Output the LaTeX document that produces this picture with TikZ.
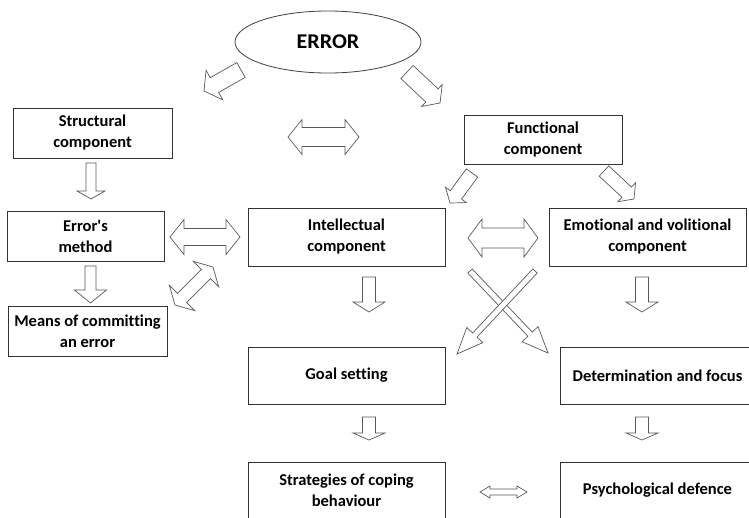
\documentclass[tikz,border=0pt]{standalone}
\usepackage{fontspec}
\setmainfont{Carlito}[Ligatures={TeXOff,CommonOff}]
\newfontfamily\errfont{Carlito}[FakeStretch=1.05]
\usetikzlibrary{calc,shapes.geometric}

\tikzset{
  box/.style={draw=black!80, line width=0.8pt, fill=white, inner sep=0pt, align=center,
    font=\bfseries\fontsize{16.5}{21}\selectfont},
  blockarr/.style={draw=black!65, line width=0.7pt, fill=white, line join=miter}
}

% hollow block arrow: from, to, shaft half width, head half width, head length
\newcommand{\singlearr}[5]{%
  \path ($(#2)!#5!(#1)$) coordinate (hb);
  \draw[blockarr] ($(#1)!#3!90:(#2)$) -- ($(hb)!#3!90:(#2)$) -- ($(hb)!#4!90:(#2)$) -- (#2)
    -- ($(hb)!#4!-90:(#2)$) -- ($(hb)!#3!-90:(#2)$) -- ($(#1)!#3!-90:(#2)$) -- cycle;}
% hollow block arrow with two heads
\newcommand{\doublearr}[5]{%
  \path ($(#1)!#5!(#2)$) coordinate (ha) ($(#2)!#5!(#1)$) coordinate (hb);
  \draw[blockarr] (#1) -- ($(ha)!#4!90:(#2)$) -- ($(ha)!#3!90:(#2)$) -- ($(hb)!#3!90:(#2)$)
    -- ($(hb)!#4!90:(#2)$) -- (#2) -- ($(hb)!#4!-90:(#2)$) -- ($(hb)!#3!-90:(#2)$)
    -- ($(ha)!#3!-90:(#2)$) -- ($(ha)!#4!-90:(#2)$) -- cycle;}

\begin{document}
\begin{tikzpicture}[x=1pt,y=-1pt]
	\clip (0,0) rectangle (749,517);
	\fill[white] (0,0) rectangle (749,517);
	% top
	\node[draw=black!75, line width=0.8pt, ellipse, minimum width=186pt, minimum height=62pt,
	  inner sep=0pt, font=\errfont\bfseries\fontsize{21}{24}\selectfont] (err) at (328,42) {ERROR};
	\node[box, minimum width=159pt, minimum height=50pt] (struct) at (92.5,133) {Structural\\component};
	\node[box, minimum width=158pt, minimum height=49pt] (func) at (543,139.5) {Functional\\component};
	% left column
	\node[box, minimum width=157pt, minimum height=50pt] (method) at (85.5,236) {Error's\\method};
	\node[box, minimum width=159pt, minimum height=50pt] (means) at (87.5,331) {Means of committing\\an error};
	% middle and right
	\node[box, minimum width=197pt, minimum height=58pt] (intel) at (346.5,237) {Intellectual\\component};
	\node[box, minimum width=197pt, minimum height=58pt] (emot) at (647.5,237) {Emotional and volitional\\component};
	\node[box, minimum width=197pt, minimum height=57pt] (goal) at (346.5,375.5) {Goal setting};
	\node[box, minimum width=195pt, minimum height=57pt] (determ) at (657.5,375.5) {Determination and focus};
	\node[box, minimum width=197pt, minimum height=57pt] (strat) at (346.5,490.5) {Strategies of coping\\behaviour};
	\node[box, minimum width=195pt, minimum height=57pt] (psych) at (657.5,490.5) {Psychological defence};

	% arrow ends
	\coordinate (errL1) at (241,70);   \coordinate (errL2) at (204,91);
	\coordinate (errR1) at (407,72);   \coordinate (errR2) at (440,103);
	\coordinate (funcL1) at (472,173); \coordinate (funcL2) at (450,203);
	\coordinate (funcR1) at (604,171); \coordinate (funcR2) at (634,199);
	\coordinate (top1) at (288,137);   \coordinate (top2) at (359,137);
	\coordinate (mid1) at (170,237);   \coordinate (mid2) at (240,237);
	\coordinate (mid3) at (468,238);   \coordinate (mid4) at (538,238);
	\coordinate (bot1) at (480,492);   \coordinate (bot2) at (527,492);
	\coordinate (dg1) at (175,305);    \coordinate (dg2) at (213,267);
	\coordinate (xa1) at (470,271);    \coordinate (xa2) at (548,353);
	\coordinate (xb1) at (535,271);    \coordinate (xb2) at (457,354);
	\coordinate (v1a) at (91,163);     \coordinate (v1b) at (91,199);
	\coordinate (v2a) at (90.5,266);   \coordinate (v2b) at (90.5,303);
	\coordinate (v3a) at (369,277);    \coordinate (v3b) at (369,312);
	\coordinate (v4a) at (642,277);    \coordinate (v4b) at (642,312);
	\coordinate (v5a) at (369,417);    \coordinate (v5b) at (369,440);
	\coordinate (v6a) at (642,417);    \coordinate (v6b) at (642,440);

	% single block arrows
	\singlearr{errL1}{errL2}{8.5pt}{17pt}{12pt}
	\singlearr{errR1}{errR2}{9pt}{15pt}{11pt}
	\singlearr{funcL1}{funcL2}{7pt}{13pt}{10pt}
	\singlearr{funcR1}{funcR2}{7pt}{13pt}{10pt}
	\singlearr{v1a}{v1b}{5pt}{14pt}{8pt}
	\singlearr{v2a}{v2b}{5.5pt}{16pt}{13pt}
	\singlearr{v3a}{v3b}{6.5pt}{16pt}{10pt}
	\singlearr{v4a}{v4b}{6.5pt}{16pt}{10pt}
	\singlearr{v5a}{v5b}{6.5pt}{16pt}{7pt}
	\singlearr{v6a}{v6b}{6.5pt}{16pt}{7pt}
	% crossing arrows
	\singlearr{xa1}{xa2}{3pt}{11pt}{26pt}
	\singlearr{xb1}{xb2}{3pt}{11pt}{26pt}
	% double block arrows
	\doublearr{top1}{top2}{9.5pt}{17.5pt}{14pt}
	\doublearr{mid1}{mid2}{8.5pt}{17.5pt}{14pt}
	\doublearr{mid3}{mid4}{10pt}{19pt}{14pt}
	\doublearr{bot1}{bot2}{3pt}{6pt}{10pt}
	\doublearr{dg1}{dg2}{6.5pt}{18pt}{10pt}
\end{tikzpicture}
\end{document}
